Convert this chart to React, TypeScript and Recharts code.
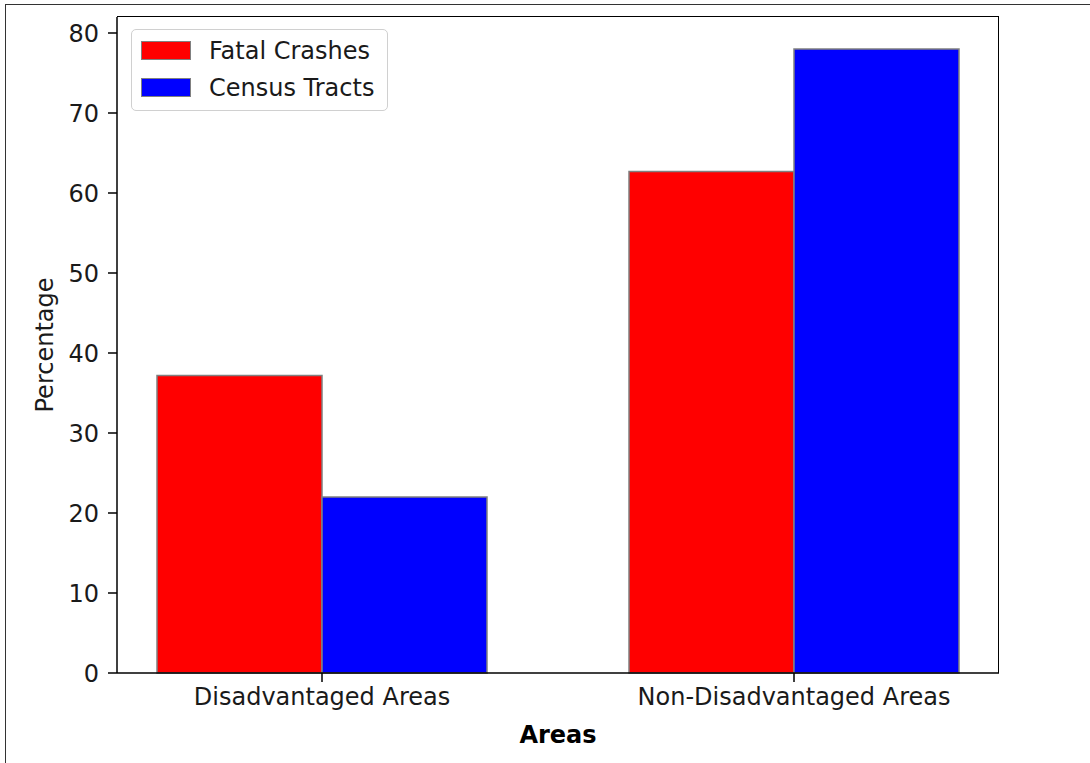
import React from 'react';
import { BarChart, Bar, XAxis, YAxis, Legend } from 'recharts';

const categories = ['Disadvantaged Areas', 'Non-Disadvantaged Areas'];
const fatalCrashes = [37.2, 62.7];
const censusTracts = [22.0, 78.0];
const yTicks = [0, 10, 20, 30, 40, 50, 60, 70, 80];

const data = categories.map((area, i) => ({
  area,
  fatal: fatalCrashes[i],
  census: censusTracts[i],
}));

const FONT = '"DejaVu Sans", sans-serif';
const TEXT = '#1a1a1a';

const legendItems = [
  { label: 'Fatal Crashes', color: '#ff0000' },
  { label: 'Census Tracts', color: '#0000ff' },
];

const LegendBox = () => (
  <div
    style={{
      width: 257,
      height: 82,
      boxSizing: 'border-box',
      border: '1.5px solid #d0d0d0',
      borderRadius: 5,
      background: 'rgba(255,255,255,0.8)',
      padding: '2px 0 0 9px',
      fontFamily: FONT,
      fontSize: 24,
      color: TEXT,
    }}
  >
    {legendItems.map((it) => (
      <div key={it.label} style={{ display: 'flex', alignItems: 'center', height: 37 }}>
        <span
          style={{
            display: 'inline-block',
            width: 48,
            height: 17,
            background: it.color,
            border: '1.5px solid #808080',
            marginRight: 18,
          }}
        />
        <span>{it.label}</span>
      </div>
    ))}
  </div>
);

export default function App() {
  return (
    <div style={{ position: 'absolute', left: 0, top: 0, width: 1090, height: 763, background: '#fff' }}>
      <div
        style={{
          position: 'absolute',
          left: 5,
          top: 4,
          right: 0,
          bottom: 0,
          borderTop: '1.5px solid #333',
          borderLeft: '1.5px solid #333',
        }}
      />
      {/* axes frame (top and right spines) */}
      <div
        style={{
          position: 'absolute',
          left: 117,
          top: 16,
          width: 882,
          height: 657,
          boxSizing: 'border-box',
          borderTop: '1.5px solid #000',
          borderRight: '1.5px solid #000',
        }}
      />
      <BarChart
        width={1090}
        height={763}
        data={data}
        margin={{ top: 17, right: 91, bottom: 0, left: 0 }}
        barGap={0}
        style={{ position: 'absolute', left: 0, top: 0 }}
      >
        <XAxis
          dataKey="area"
          height={90}
          padding={{ left: -31, right: -31 }}
          stroke="#000"
          tickSize={9}
          tickMargin={6}
          tick={{ fontFamily: FONT, fontSize: 24, fill: TEXT }}
          tickLine={{ stroke: '#000', strokeWidth: 1.5 }}
          axisLine={{ stroke: '#000', strokeWidth: 1.5 }}
          label={{
            value: 'Areas',
            position: 'insideBottom',
            offset: 20,
            style: { fontFamily: FONT, fontSize: 24, fontWeight: 'bold', fill: '#000' },
          }}
        />
        <YAxis
          width={117}
          domain={[0, 82]}
          ticks={yTicks}
          interval={0}
          tickSize={9}
          tickMargin={9}
          tick={{ fontFamily: FONT, fontSize: 24, fill: TEXT }}
          tickLine={{ stroke: '#000', strokeWidth: 1.5 }}
          axisLine={{ stroke: '#000', strokeWidth: 1.5 }}
          label={{
            value: 'Percentage',
            angle: -90,
            position: 'insideLeft',
            offset: 44,
            style: { fontFamily: FONT, fontSize: 24, fill: TEXT, textAnchor: 'middle' },
          }}
        />
        <Legend
          layout="horizontal"
          verticalAlign="middle"
          align="center"
          content={() => <LegendBox />}
          wrapperStyle={{ left: 131, top: 29, width: 257, height: 82 }}
        />
        <Bar
          dataKey="fatal"
          name="Fatal Crashes"
          fill="#ff0000"
          stroke="#808080"
          strokeWidth={1.5}
          barSize={165}
          isAnimationActive={false}
        />
        <Bar
          dataKey="census"
          name="Census Tracts"
          fill="#0000ff"
          stroke="#808080"
          strokeWidth={1.5}
          barSize={165}
          isAnimationActive={false}
        />
      </BarChart>
    </div>
  );
}
